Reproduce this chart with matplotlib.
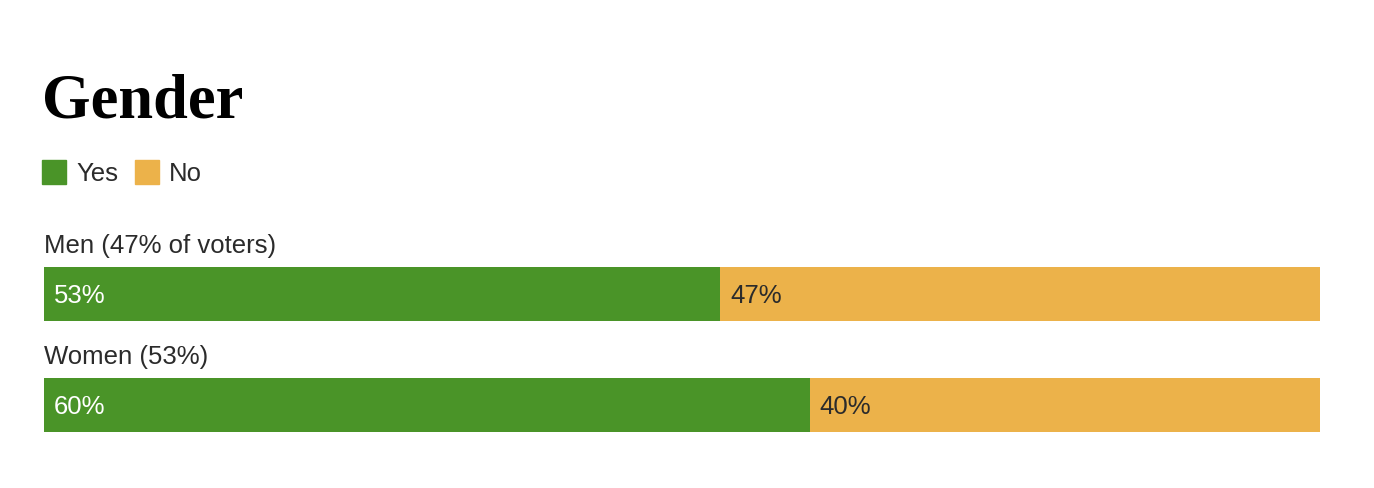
import matplotlib.pyplot as plt
from matplotlib.patches import Rectangle

# Data
groups = ['Men (47% of voters)', 'Women (53%)']
yes_share = [53, 60]
no_share = [47, 40]
series_names = ['Yes', 'No']

green = '#4A9428'
yellow = '#ECB24A'
text_color = '#2b2b2b'

W, H = 1374, 488
fig = plt.figure(figsize=(W / 100, H / 100), dpi=100)

def fx(px):
    return px / W

def fy(py):
    return 1 - py / H

# Bar area: 44..1320 px wide, 267..432 px tall
ax = fig.add_axes([fx(44), fy(432), fx(1320) - fx(44), fy(267) - fy(432)])
bar_h = 0.484
ypos = list(range(len(groups)))

ax.barh(ypos, yes_share, height=bar_h, color=green, left=0)
ax.barh(ypos, no_share, height=bar_h, color=yellow, left=yes_share)
ax.set_xlim(0, 100)
ax.set_ylim(len(groups) - 1 + bar_h / 2, -bar_h / 2)
ax.axis('off')

fs = 18.5
for i, g in enumerate(groups):
    # group label above the bar
    ax.text(0, i - bar_h / 2 - 0.125, g, ha='left', va='baseline',
            fontsize=fs, color=text_color, family='Liberation Sans')
    ax.text(0.8, i + 0.02, f'{yes_share[i]}%', ha='left', va='center',
            fontsize=fs, color='white', family='Liberation Sans')
    ax.text(yes_share[i] + 0.8, i + 0.02, f'{no_share[i]}%', ha='left', va='center',
            fontsize=fs, color=text_color, family='Liberation Sans')

# Title
fig.text(fx(42), fy(117), 'Gender', ha='left', va='baseline', fontsize=45,
         fontweight='bold', family='Liberation Serif', color='black')

# Legend
legend_x = [42, 135]
for lx, name, col in zip(legend_x, series_names, [green, yellow]):
    fig.patches.append(Rectangle((fx(lx), fy(184)), fx(24), fy(160) - fy(184),
                                 transform=fig.transFigure, color=col, figure=fig))
    fig.text(fx(lx + 34), fy(181), name, ha='left', va='baseline',
             fontsize=fs, color=text_color, family='Liberation Sans')

fig.savefig('out.png', dpi=100, facecolor='white')
